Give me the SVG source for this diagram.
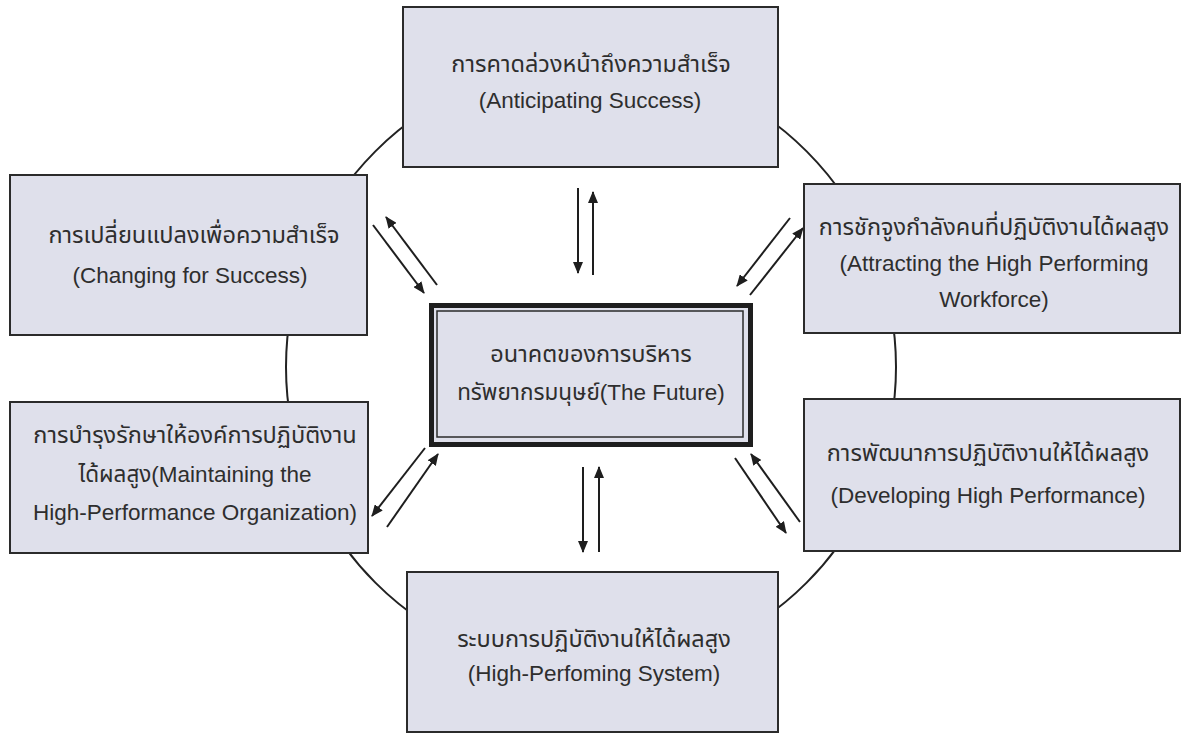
<svg xmlns="http://www.w3.org/2000/svg" width="1181" height="734" viewBox="0 0 1181 734">
<defs>
<marker id="ah" viewBox="0 0 12 10" refX="11" refY="5" markerWidth="12" markerHeight="10" markerUnits="userSpaceOnUse" orient="auto">
<path d="M0,0 L12,5 L0,10 Z" fill="#1e1e1e"/>
</marker>
<style>
.box{fill:#dfe0eb;stroke:#2b2b2b;stroke-width:2}
.t{font-family:"Liberation Sans","Noto Sans","Noto Sans Thai",sans-serif;font-size:22.5px;fill:#2e2e2e;text-anchor:middle}
.th{font-size:23.5px}
.a{stroke:#1e1e1e;stroke-width:2;fill:none;marker-end:url(#ah)}
.ring{fill:none;stroke:#222;stroke-width:2}
</style>
</defs>
<rect width="1181" height="734" fill="#ffffff"/>
<circle class="ring" cx="591" cy="367" r="305"/>
<g id="connectors">
<line class="a" x1="578" y1="188" x2="578" y2="273"/>
<line class="a" x1="593" y1="275" x2="593" y2="192"/>
<line class="a" x1="373" y1="225" x2="424" y2="293"/>
<line class="a" x1="437" y1="285" x2="386" y2="217"/>
<line class="a" x1="790" y1="218" x2="737" y2="286"/>
<line class="a" x1="750" y1="295" x2="803" y2="228"/>
<line class="a" x1="425" y1="448" x2="372" y2="516"/>
<line class="a" x1="387" y1="527" x2="438" y2="454"/>
<line class="a" x1="735" y1="458" x2="786" y2="533"/>
<line class="a" x1="800" y1="522" x2="751" y2="454"/>
<line class="a" x1="583" y1="467" x2="583" y2="552"/>
<line class="a" x1="599" y1="552" x2="599" y2="467"/>
</g>
<g id="top">
<rect class="box" x="403" y="7" width="375" height="160"/>
<text class="t th" x="591" y="72">การคาดล่วงหน้าถึงความสำเร็จ</text>
<text class="t" x="590" y="108">(Anticipating Success)</text>
</g>
<g id="changing">
<rect class="box" x="10" y="175" width="357" height="160"/>
<text class="t th" x="194" y="243">การเปลี่ยนแปลงเพื่อความสำเร็จ</text>
<text class="t" x="190" y="283">(Changing for Success)</text>
</g>
<g id="attracting">
<rect class="box" x="804" y="184" width="376" height="149"/>
<text class="t th" x="994" y="235">การชักจูงกำลังคนที่ปฏิบัติงานได้ผลสูง</text>
<text class="t" x="994" y="271">(Attracting the High Performing</text>
<text class="t" x="994" y="307">Workforce)</text>
</g>
<g id="center">
<rect x="431.5" y="305.5" width="319" height="139" fill="#dfe0eb" stroke="#1e1e1e" stroke-width="5"/>
<rect x="437" y="311" width="306" height="126" fill="none" stroke="#2b2b2b" stroke-width="1.5"/>
<text class="t th" x="591" y="362">อนาคตของการบริหาร</text>
<text class="t" x="591" y="400">ทรัพยากรมนุษย์(The Future)</text>
</g>
<g id="maintaining">
<rect class="box" x="10" y="402" width="358" height="151"/>
<text class="t th" x="195" y="443">การบำรุงรักษาให้องค์การปฏิบัติงาน</text>
<text class="t" x="195" y="482">ได้ผลสูง(Maintaining the</text>
<text class="t" x="195" y="520">High-Performance Organization)</text>
</g>
<g id="developing">
<rect class="box" x="804" y="399" width="376" height="152"/>
<text class="t th" x="988" y="461">การพัฒนาการปฏิบัติงานให้ได้ผลสูง</text>
<text class="t" x="988" y="503">(Developing High Performance)</text>
</g>
<g id="system">
<rect class="box" x="407" y="572" width="371" height="160"/>
<text class="t th" x="594" y="647">ระบบการปฏิบัติงานให้ได้ผลสูง</text>
<text class="t" x="594" y="681">(High-Perfoming System)</text>
</g>
</svg>
